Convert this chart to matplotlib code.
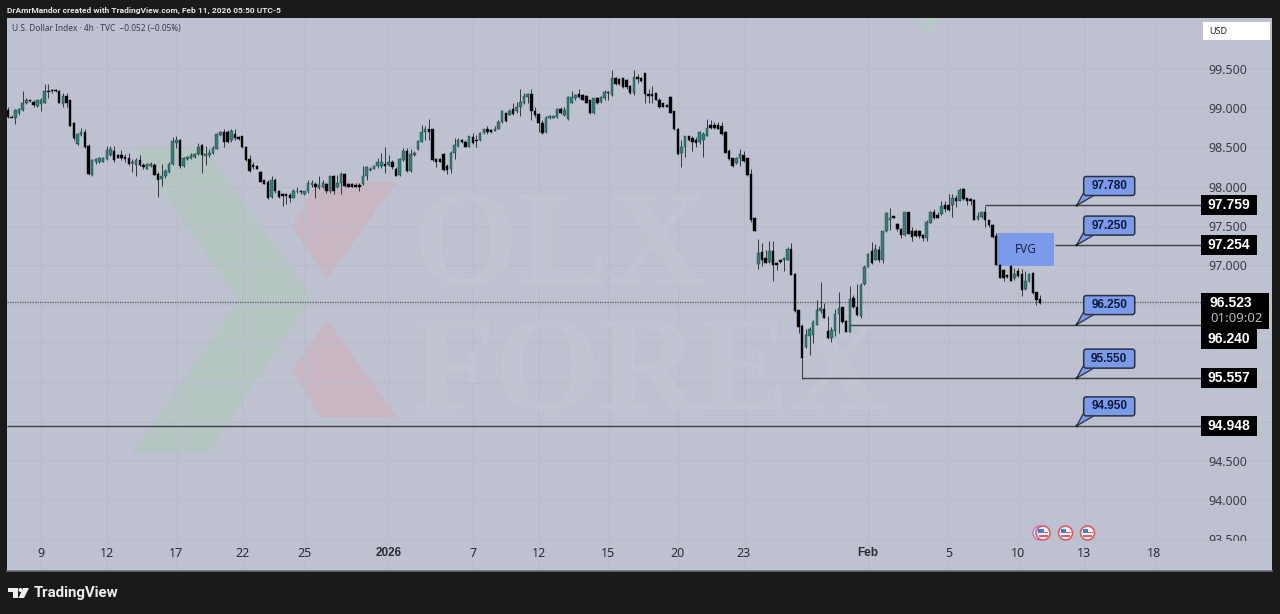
#!/usr/bin/env python3
import matplotlib
matplotlib.use("Agg")
import matplotlib.pyplot as plt
from matplotlib.patches import Polygon, Rectangle, FancyBboxPatch, Circle
from matplotlib.transforms import Affine2D, Bbox

W, H = 1280, 614
plt.rcParams["font.family"] = ["Noto Sans", "DejaVu Sans"]

# ---------- data: 4h candles ----------
opens = [
98.98,98.89,98.87,98.94,98.98,99.07,99.10,99.08,99.03,99.05,
99.06,99.22,99.23,99.23,99.22,99.05,99.15,99.10,98.81,98.54,
98.66,98.70,98.52,98.15,98.31,98.31,98.32,98.35,98.40,98.45,
98.40,98.40,98.38,98.36,98.30,98.28,98.34,98.28,98.23,98.26,
98.28,98.16,98.10,98.13,98.18,98.29,98.55,98.60,98.26,98.35,
98.36,98.38,98.42,98.53,98.39,98.40,98.43,98.48,98.66,98.70,
98.70,98.59,98.67,98.63,98.64,98.51,98.35,98.28,98.26,98.19,
98.08,98.06,97.87,98.09,97.94,97.91,97.90,97.89,97.86,97.95,
97.94,97.90,97.94,98.02,98.03,97.98,98.00,98.03,97.94,98.13,
98.00,98.05,98.16,98.03,98.03,98.02,98.02,98.03,98.13,98.21,
98.23,98.26,98.26,98.29,98.28,98.31,98.23,98.15,98.34,98.45,
98.20,98.40,98.48,98.57,98.70,98.73,98.73,98.35,98.35,98.42,
98.26,98.23,98.43,98.52,98.60,98.57,98.51,98.63,98.60,98.59,
98.68,98.74,98.72,98.71,98.74,98.82,98.94,98.91,98.99,98.96,
99.01,99.06,99.14,99.18,98.97,98.92,98.81,98.70,98.87,98.88,
98.89,98.99,98.91,98.86,99.07,99.13,99.18,99.17,99.16,99.10,
98.94,99.13,99.08,99.13,99.21,99.17,99.38,99.37,99.38,99.36,
99.28,99.19,99.40,99.39,99.45,99.18,99.18,99.19,99.11,99.06,
99.04,99.14,98.96,98.74,98.43,98.50,98.64,98.62,98.60,98.57,
98.60,98.65,98.79,98.79,98.79,98.77,98.70,98.45,98.36,98.30,
98.36,98.40,98.36,98.16,97.60,97.01,97.16,97.09,97.04,97.18,
97.03,97.06,97.06,97.06,97.20,96.89,96.42,96.22,95.95,96.10,
96.11,96.24,96.41,96.44,96.16,96.07,96.16,96.38,96.46,96.28,
96.15,96.58,96.47,96.35,96.76,96.98,97.18,97.06,97.19,97.06,
97.43,97.57,97.62,97.52,97.46,97.38,97.67,97.44,97.44,97.43,
97.38,97.34,97.54,97.68,97.64,97.65,97.77,97.77,97.77,97.85,
97.82,97.97,97.85,97.84,97.83,97.59,97.61,97.68,97.57,97.51,
97.37,97.00,96.94,96.87,96.99,96.83,96.92,96.89,96.69,96.79,
96.90,96.65,96.56,
]
highs = [
99.02,98.91,98.99,99.00,99.22,99.13,99.11,99.10,99.11,99.13,
99.31,99.31,99.25,99.24,99.23,99.20,99.20,99.11,98.83,98.68,
98.75,98.74,98.54,98.35,98.36,98.38,98.38,98.52,98.52,98.52,
98.42,98.47,98.42,98.43,98.35,98.36,98.40,98.30,98.30,98.32,
98.30,98.19,98.29,98.23,98.31,98.63,98.64,98.61,98.38,98.39,
98.43,98.43,98.56,98.54,98.52,98.48,98.52,98.69,98.71,98.74,
98.72,98.73,98.73,98.64,98.65,98.52,98.40,98.32,98.27,98.20,
98.09,98.08,98.14,98.11,97.96,97.92,97.92,97.92,97.97,98.00,
97.96,97.95,98.08,98.09,98.06,98.13,98.08,98.05,98.14,98.15,
98.15,98.18,98.17,98.04,98.04,98.04,98.05,98.26,98.26,98.25,
98.28,98.36,98.43,98.50,98.40,98.34,98.25,98.36,98.49,98.49,
98.48,98.45,98.60,98.79,98.77,98.86,98.74,98.36,98.36,98.43,
98.29,98.45,98.62,98.62,98.61,98.60,98.65,98.68,98.66,98.70,
98.74,98.77,98.73,98.77,98.85,98.98,98.94,98.99,99.06,99.08,
99.25,99.19,99.19,99.24,99.02,98.94,98.85,98.90,98.91,98.91,
99.00,99.02,99.02,99.15,99.22,99.18,99.24,99.18,99.17,99.11,
99.13,99.14,99.15,99.23,99.22,99.49,99.40,99.38,99.39,99.37,
99.30,99.49,99.44,99.40,99.45,99.25,99.28,99.20,99.13,99.07,
99.05,99.15,98.97,98.75,98.60,98.65,98.65,98.65,98.63,98.71,
98.70,98.86,98.85,98.82,98.83,98.83,98.71,98.48,98.37,98.38,
98.48,98.45,98.37,98.23,97.61,97.33,97.28,97.19,97.31,97.31,
97.04,97.07,97.10,97.23,97.28,96.90,96.43,96.25,96.18,96.21,
96.30,96.55,96.78,96.51,96.35,96.21,96.44,96.65,96.47,96.30,
96.73,96.62,96.76,96.77,97.00,97.15,97.29,97.27,97.24,97.44,
97.67,97.73,97.63,97.53,97.47,97.68,97.68,97.48,97.46,97.45,
97.40,97.58,97.69,97.72,97.67,97.81,97.81,97.91,97.91,97.89,
97.98,97.98,97.86,97.85,97.84,97.68,97.68,97.75,97.58,97.52,
97.41,97.01,96.95,96.89,97.00,96.96,96.96,96.95,96.92,96.90,
96.91,96.66,96.62,
]
lows = [
98.88,98.87,98.80,98.91,98.96,99.05,99.08,99.02,99.01,98.96,
99.06,99.13,99.20,99.21,99.06,99.02,99.01,98.77,98.59,98.53,
98.65,98.49,98.15,98.14,98.29,98.30,98.31,98.34,98.39,98.32,
98.36,98.34,98.32,98.28,98.19,98.14,98.26,98.23,98.22,98.25,
98.15,97.87,98.01,98.11,98.17,98.28,98.49,98.24,98.25,98.34,
98.35,98.37,98.40,98.17,98.28,98.38,98.41,98.48,98.65,98.50,
98.56,98.57,98.60,98.60,98.49,98.33,98.19,98.23,98.22,98.06,
98.03,97.84,97.86,97.92,97.86,97.75,97.78,97.80,97.86,97.92,
97.91,97.89,97.92,98.00,97.86,97.97,97.98,97.92,97.92,97.91,
97.98,97.91,97.99,97.99,97.99,97.99,97.94,98.02,98.09,98.20,
98.22,98.24,98.24,98.17,98.26,98.23,98.14,98.14,98.33,98.19,
98.18,98.39,98.47,98.57,98.60,98.60,98.33,98.25,98.31,98.20,
98.16,98.17,98.35,98.50,98.56,98.50,98.50,98.54,98.51,98.58,
98.67,98.67,98.69,98.71,98.74,98.81,98.83,98.91,98.91,98.94,
98.90,99.05,99.07,98.85,98.89,98.70,98.67,98.69,98.86,98.87,
98.88,98.92,98.90,98.85,99.06,99.11,99.13,99.10,99.06,98.93,
98.93,99.05,99.07,99.11,99.10,99.16,99.30,99.30,99.26,99.25,
99.18,99.17,99.32,99.34,99.06,99.06,99.06,99.10,99.00,99.01,
99.01,98.94,98.72,98.40,98.25,98.38,98.58,98.45,98.51,98.54,
98.38,98.64,98.74,98.74,98.73,98.66,98.43,98.34,98.25,98.29,
98.26,98.32,98.14,97.55,97.43,96.95,96.99,97.02,97.03,96.80,
96.94,97.03,96.92,97.06,96.87,96.40,96.13,95.55,95.94,95.85,
96.00,96.23,96.39,96.32,96.05,96.02,96.10,96.13,96.26,96.14,
96.15,96.45,96.35,96.32,96.75,96.97,97.01,97.06,97.04,97.03,
97.42,97.45,97.60,97.44,97.34,97.37,97.39,97.30,97.36,97.34,
97.31,97.31,97.53,97.59,97.60,97.64,97.68,97.69,97.61,97.74,
97.81,97.83,97.76,97.77,97.57,97.58,97.60,97.48,97.49,97.35,
97.00,96.84,96.80,96.84,96.79,96.81,96.85,96.61,96.68,96.78,
96.63,96.49,96.50,
]
closes = [
98.89,98.88,98.98,98.99,99.06,99.10,99.09,99.04,99.10,99.11,
99.22,99.21,99.22,99.22,99.07,99.15,99.06,98.77,98.62,98.67,
98.70,98.50,98.16,98.34,98.35,98.37,98.37,98.47,98.48,98.34,
98.37,98.36,98.35,98.29,98.32,98.34,98.28,98.25,98.29,98.29,
98.15,98.09,98.14,98.20,98.29,98.58,98.60,98.26,98.36,98.38,
98.40,98.42,98.51,98.40,98.42,98.43,98.49,98.67,98.70,98.57,
98.57,98.71,98.62,98.61,98.50,98.34,98.20,98.25,98.23,98.06,
98.03,97.85,98.08,97.94,97.87,97.88,97.88,97.85,97.95,97.94,
97.93,97.94,98.05,98.05,97.99,98.02,98.05,97.94,98.13,97.94,
98.05,98.16,98.01,98.00,98.00,98.00,97.99,98.14,98.25,98.23,
98.26,98.31,98.31,98.26,98.32,98.25,98.14,98.35,98.45,98.20,
98.41,98.43,98.58,98.70,98.73,98.70,98.34,98.32,98.32,98.21,
98.21,98.43,98.53,98.60,98.57,98.51,98.64,98.56,98.58,98.69,
98.73,98.70,98.70,98.74,98.82,98.96,98.84,98.96,98.93,99.02,
99.08,99.16,99.18,98.97,98.91,98.81,98.69,98.88,98.90,98.90,
98.99,98.94,98.98,99.14,99.14,99.17,99.14,99.11,99.07,98.94,
99.13,99.06,99.14,99.21,99.19,99.38,99.31,99.31,99.27,99.27,
99.20,99.40,99.37,99.35,99.18,99.15,99.15,99.10,99.01,99.02,
99.02,98.94,98.73,98.42,98.50,98.64,98.60,98.57,98.56,98.70,
98.67,98.75,98.75,98.75,98.74,98.67,98.43,98.35,98.26,98.37,
98.42,98.33,98.15,97.58,97.44,97.15,97.07,97.03,97.18,97.00,
97.00,97.04,97.09,97.20,96.87,96.41,96.21,95.81,96.11,96.19,
96.27,96.43,96.45,96.33,96.07,96.17,96.38,96.45,96.27,96.15,
96.56,96.46,96.36,96.75,96.98,97.14,97.03,97.20,97.07,97.43,
97.66,97.60,97.60,97.46,97.38,97.67,97.40,97.36,97.37,97.37,
97.34,97.55,97.68,97.60,97.60,97.75,97.72,97.70,97.85,97.81,
97.96,97.84,97.82,97.82,97.57,97.62,97.67,97.57,97.51,97.36,
97.00,96.84,96.84,96.85,96.80,96.89,96.86,96.68,96.79,96.89,
96.64,96.55,96.52,
]

x_ticks = [9, 27, 46, 64, 81, 104, 127, 145, 164, 183, 201, 235, 257, 276, 294, 313]
x_labels = ["9", "12", "17", "22", "25", "2026", "7", "12", "15", "20", "23", "Feb", "5", "10", "13", "18"]
y_ticks = [93.5, 94.0, 94.5, 95.0, 95.5, 96.0, 96.5, 97.0, 97.5, 98.0, 98.5, 99.0, 99.5]
y_labels = ["93.500", "94.000", "94.500", "", "", "", "", "97.000", "97.500", "98.000", "98.500", "99.000", "99.500"]

level_prices = [97.759, 97.254, 96.240, 95.557, 94.948]
level_start = [267, 286, 230, 217, -1]
level_tags = ["97.759", "97.254", "96.240", "95.557", "94.948"]
callout_tags = ["97.780", "97.250", "96.250", "95.550", "94.950"]
last_price = 96.523
fvg_top, fvg_bottom = 97.405, 96.985
fvg_left, fvg_right = 270.2, 285.8

BG = "#bec2d0"
FRAME = "#1a1a1a"
TEAL = "#337f7c"
BLUE = "#7b9bea"
LINE = "#3e4048"
BOLD = "Liberation Sans"

fig = plt.figure(figsize=(W/100, H/100), dpi=100, facecolor=FRAME)
ax = fig.add_axes([7/W, 1-571/H, (1272-7)/W, (571-18)/H], facecolor=BG)
# pixel coords of the image, y going down
PX = Affine2D().scale(1, -1).translate(0, H)

bar_px, x0_px = 3.66, 8
ax.set_xlim((7-x0_px)/bar_px, (1272-x0_px)/bar_px)
ax.set_ylim(99.5-(571-69)/78.4, 99.5+(69-18)/78.4)
for s in ax.spines.values():
    s.set_visible(False)
ax.spines["bottom"].set_visible(True)
ax.spines["bottom"].set_color("#6c6e75")
ax.spines["bottom"].set_linewidth(1.2)

ax.grid(True, color="#b9bdcb", lw=0.8, zorder=0)
ax.set_axisbelow(True)

# ---------- logo watermark ----------
green = [(132,147),(203,147),(312,297),(208,453),(133,453),(238,300)]
red_up = [(292,227),(317,182),(397,182),(327,279)]
red_dn = [(327,320),(397,417),(320,417),(292,370)]
ax.add_patch(Polygon(green, transform=PX, fc="#b4c5c2", ec="none", zorder=0.5))
ax.add_patch(Polygon(red_up, transform=PX, fc="#c8b6c2", ec="none", zorder=0.5))
ax.add_patch(Polygon(red_dn, transform=PX, fc="#c8b6c2", ec="none", zorder=0.5))
ax.add_patch(Polygon([(916,30),(930,30),(940,18),(924,18)], transform=PX, fc="#b8c8c6", ec="none", zorder=0.5))
wm = dict(transform=PX, family="Liberation Serif", weight="bold", color="#c1c5d2",
          fontsize=98, va="baseline", ha="left", zorder=0.6)
ax.text(412, 284, "OLX", **wm)
ax.text(412, 410, "FOREX", **wm)

# ---------- candles ----------
for i, (o, h, l, c) in enumerate(zip(opens, highs, lows, closes)):
    up = c >= o
    ax.vlines(i, l, h, color="#34373c", lw=0.7, zorder=3)
    ax.bar(i, abs(c-o), bottom=min(o, c), width=0.68, color=TEAL if up else "#050505",
           edgecolor="#173f3e" if up else "#050505", lw=0.3, zorder=4)

# ---------- FVG box, levels ----------
ax.add_patch(Rectangle((fvg_left, fvg_bottom), fvg_right-fvg_left, fvg_top-fvg_bottom, fc=BLUE, ec="none", zorder=2))
ax.text((fvg_left+fvg_right)/2, (fvg_top+fvg_bottom)/2, "FVG", color="#14234a", fontsize=8.5, ha="center", va="center", zorder=5)

x_tag = (1201-x0_px)/bar_px
ax.hlines(last_price, ax.get_xlim()[0], x_tag, color="#55575f", lw=0.9, linestyles=(0, (1, 1)), zorder=2.5)
for p, s in zip(level_prices, level_start):
    ax.hlines(p, max(s, ax.get_xlim()[0]), x_tag, color=LINE, lw=1.0, zorder=5)

ax.set_xticks(x_ticks, x_labels)
ax.set_yticks(y_ticks, y_labels)
ax.yaxis.tick_right()
ax.tick_params(axis="x", length=0, pad=-17, labelsize=9, labelcolor="#2a2d35")
ax.tick_params(axis="y", length=0, pad=-46, labelsize=9, labelcolor="#3a3d45")
for t in ax.get_xticklabels():
    t.set_zorder(8)
    if t.get_text() in ("2026", "Feb"):
        t.set_family(BOLD)
        t.set_weight("bold")
        t.set_fontsize(8.5)
# the lowest price label is cut by the time scale
low_label = ax.get_yticklabels()[0]
low_label.set_clip_on(True)
low_label.set_clip_box(Bbox([[1190, H-541], [1272, H-500]]))

# ---------- callouts with tails ----------
for p, tag in zip(level_prices, callout_tags):
    tx = 292*bar_px + x0_px
    ty = H - ax.transData.transform((292, p))[1]
    ax.add_patch(Polygon([(tx, ty), (tx+7, ty-13), (tx+17, ty-10)], transform=PX, fc=BLUE, ec="#2a3040", lw=0.9, zorder=6, clip_on=False))
    ax.add_patch(FancyBboxPatch((tx+7, ty-29), 51, 19, boxstyle="round,pad=0,rounding_size=2.5", transform=PX,
                                fc=BLUE, ec="#2a3040", lw=1.1, zorder=7))
    ax.text(tx+32.5, ty-19.5, tag, transform=PX, color="#0d1a3a", fontsize=8.5, family=BOLD, weight="bold", ha="center", va="center", zorder=8)
    ax.add_patch(Circle((tx, ty), 1.3, transform=PX, fc="#222", ec="none", zorder=7))

# ---------- price tags ----------
tag_shift = [0, 0, 14, 0, 0]  # 96.240 gets pushed down under the last price
for p, tag, dy in zip(level_prices, level_tags, tag_shift):
    yy = H - ax.transData.transform((0, p))[1] + dy
    ax.add_patch(Rectangle((1201, yy-10), 56, 20, transform=PX, fc="#000000", ec="none", zorder=9))
    ax.text(1229, yy, tag, transform=PX, color="white", fontsize=10, family=BOLD, weight="bold", ha="center", va="center", zorder=10)
yy = H - ax.transData.transform((0, last_price))[1]
ax.add_patch(Rectangle((1201, yy-9.5), 68, 36, transform=PX, fc="#000000", ec="none", zorder=9.5))
ax.text(1210, yy+0.5, "96.523", transform=PX, color="white", fontsize=10, family=BOLD, weight="bold", ha="left", va="center", zorder=10)
ax.text(1210, yy+16.5, "01:09:02", transform=PX, color="#b9bcc4", fontsize=9.5, ha="left", va="center", zorder=10)

# USD button
ax.add_patch(Rectangle((1203, 22), 67, 18, transform=PX, fc="white", ec="none", zorder=9))
ax.text(1209, 31, "USD", transform=PX, color="#222", fontsize=6.5, ha="left", va="center", zorder=10)

# ---------- event flags ----------
for fx in [1043, 1065.5, 1087.5]:
    if fx == 1043:
        ax.add_patch(Circle((fx-3, 533), 7, transform=PX, fc="#e8e8f0", ec="#c46fd0", lw=1, zorder=6))
    ax.add_patch(Circle((fx, 533), 7, transform=PX, fc="#f3f3f6", ec="#df5a64", lw=1.2, zorder=6.1))
    ax.add_patch(Rectangle((fx-5, 531.5), 10, 1.6, transform=PX, fc="#df5a64", ec="none", zorder=6.2))
    ax.add_patch(Rectangle((fx-4.5, 535), 9, 1.6, transform=PX, fc="#df5a64", ec="none", zorder=6.2))
    ax.add_patch(Rectangle((fx-5, 528.5), 5.5, 4, transform=PX, fc="#3d7fd9", ec="none", zorder=6.3))

# ---------- header, legend, footer ----------
fig.text(7/W, 1-10/H, "DrAmrMandor created with TradingView.com, Feb 11, 2026 05:50 UTC-5", color="#e6e6e6",
         fontsize=6.0, family="Roboto", weight="bold", ha="left", va="center")
ax.text(12, 29, "U.S. Dollar Index · 4h · TVC  \u22120.052 (\u22120.05%)", transform=PX, color="#3a3d48",
        fontsize=6.0, ha="left", va="center", zorder=9)
fig.text(34/W, 1-593/H, "TradingView", color="#eeeeee", fontsize=10.8, family="Roboto", weight="bold", ha="left", va="center")
fig.add_artist(Polygon([(8,588),(18,588),(18,598),(13,598),(13,592),(8,592)], transform=PX, fc="#eeeeee", ec="none"))
fig.add_artist(Polygon([(23,588),(29,588),(24,598),(18.5,598)], transform=PX, fc="#eeeeee", ec="none"))
fig.add_artist(Circle((20.5,590), 2, transform=PX, fc="#eeeeee", ec="none"))

fig.savefig("out.png", dpi=100, facecolor=FRAME)
